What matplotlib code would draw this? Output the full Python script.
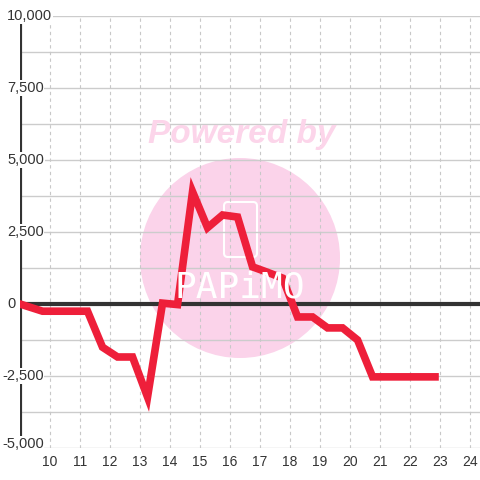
import numpy as np
import matplotlib.pyplot as plt
from matplotlib.patches import Circle, FancyBboxPatch

# Data
hours = [9.0, 9.75, 11.25, 11.75, 12.25, 12.75, 13.25, 13.75, 14.25, 14.75,
         15.25, 15.75, 16.25, 16.75, 17.25, 17.75, 18.25, 18.75, 19.25, 19.75,
         20.25, 20.75, 22.83]
values = [0, -250, -250, -1500, -1840, -1840, -3230, 30, -20, 3900,
          2650, 3090, 3020, 1290, 1100, 900, -450, -450, -830, -830,
          -1250, -2530, -2530]
x_ticks = list(range(10, 25))
y_labels = [10000, 7500, 5000, 2500, 0, -2500, -5000]


def px(x, y):
    # pixel position from top-left -> figure fraction
    return x / 480, 1 - y / 480


fig = plt.figure(figsize=(4.8, 4.8), dpi=100)
ax = fig.add_axes([20 / 480, 32 / 480, 460 / 480, 432 / 480])
ax.set_xlim(9.0, 24.33)
ax.set_ylim(-5000, 10000)

# grid
for yv in np.arange(-5000, 10001, 1250):
    ax.axhline(yv, color='#cccccc', lw=1, zorder=0.5)
for xv in x_ticks:
    ax.axvline(xv, color='#c8c8c8', lw=0.8, ls=(0, (3, 3)), zorder=0.5)
ax.axhline(0, color='#333333', lw=3, zorder=2)

for s in ax.spines.values():
    s.set_visible(False)
ax.axvline(9.0, color='#333333', lw=3, zorder=2)

# watermark
ax.add_patch(Circle(px(240, 258), 100 / 480, transform=fig.transFigure,
                    color='#fbd3ea', zorder=0.2, lw=0))
ax.add_patch(FancyBboxPatch(px(224, 257), 33 / 480, 55 / 480,
                            boxstyle='round,pad=0,rounding_size=0.008',
                            transform=fig.transFigure, fill=False,
                            ec='white', lw=1.5, zorder=0.3))
fig.text(*px(240, 287), 'PAPiMO', color='white', fontsize=26,
         ha='center', va='center', zorder=0.3, family='DejaVu Sans Mono')
fig.text(*px(242, 134), 'Powered by', color='#fcd5ea', fontsize=24,
         fontweight='bold', fontstyle='italic', ha='center', va='center',
         family='Liberation Sans', zorder=0.3)

ax.plot(hours, values, color='#ee1f3a', lw=5.5, solid_joinstyle='miter', zorder=3)

ax.set_xticks(x_ticks)
ax.set_xticklabels([str(t) for t in x_ticks], fontsize=10, color='#333333',
                   family='Liberation Sans')
ax.tick_params(axis='x', length=0, pad=5)
ax.set_yticks([])

for yv in y_labels:
    xoff = -18 if yv < 0 else -13
    ypos = yv + 150 if yv == -5000 else yv
    ax.text(xoff / 460, ypos, f'{yv:,}', transform=ax.get_yaxis_transform(),
            ha='left', va='center', fontsize=10.5, color='#333333',
            family='Liberation Sans', zorder=4,
            bbox=dict(facecolor='white', edgecolor='none', pad=0.5),
            clip_on=False)

fig.savefig('out.png', dpi=100)
